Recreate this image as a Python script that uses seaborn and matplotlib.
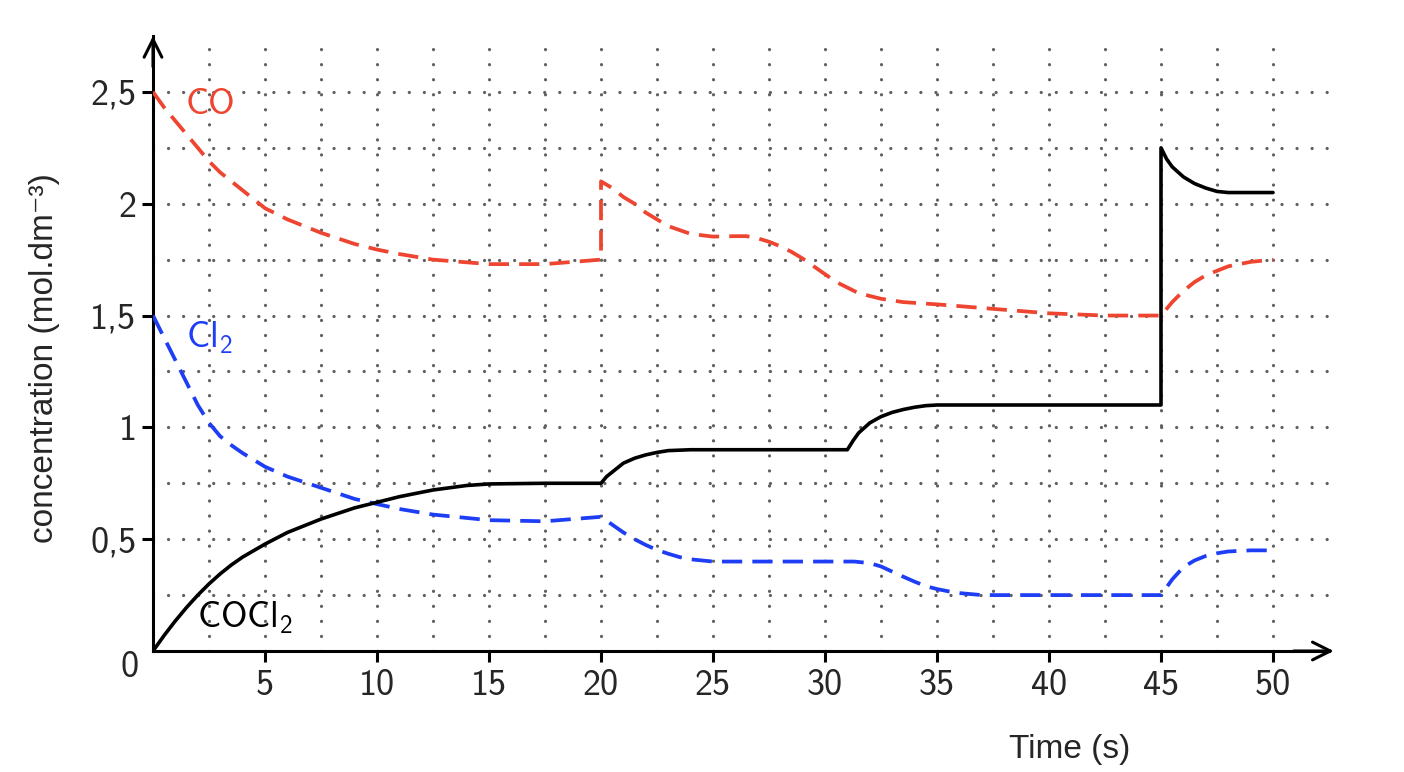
import numpy as np
import pandas as pd
import matplotlib
matplotlib.use("Agg")
import matplotlib.pyplot as plt
import seaborn as sns

# ---------------- data ----------------
co_t = [0, 0.5, 1, 1.5, 2, 2.5, 3, 3.5, 4, 5, 6, 7.5, 9, 10, 11, 12.5, 15, 17.5, 20,
        20, 20.5, 21, 21.5, 22, 22.5, 23, 24, 25, 26, 26.5, 27, 27.5, 28, 28.5, 29, 29.5, 30,
        30.5, 31, 31.5, 32.5, 33.5, 35, 37.5, 40, 42.5, 45,
        45.5, 46, 46.5, 47, 47.5, 48, 49, 50]
co_c = [2.50, 2.43, 2.37, 2.31, 2.25, 2.19, 2.14, 2.10, 2.06, 1.98, 1.93, 1.87, 1.82, 1.795, 1.775, 1.75, 1.73, 1.73, 1.75,
        2.10, 2.07, 2.03, 2.00, 1.96, 1.93, 1.90, 1.865, 1.853, 1.855, 1.855, 1.845, 1.83, 1.81, 1.785, 1.755, 1.72, 1.685,
        1.65, 1.625, 1.60, 1.575, 1.56, 1.55, 1.53, 1.51, 1.50, 1.50,
        1.56, 1.61, 1.65, 1.68, 1.70, 1.72, 1.74, 1.75]

cl2_t = [0, 0.5, 1, 1.5, 2, 2.5, 3, 3.5, 4, 5, 6, 7.5, 9, 10, 11, 12.5, 15, 17.5, 20,
         20.5, 21, 21.5, 22, 22.5, 23, 23.5, 24, 25, 27.5, 30, 31.3, 32, 32.5, 33, 33.5, 34,
         34.5, 35, 35.5, 36, 37, 40, 45,
         45.5, 46, 46.5, 47, 47.5, 48, 49, 50]
cl2_c = [1.50, 1.40, 1.30, 1.20, 1.10, 1.02, 0.96, 0.92, 0.885, 0.824, 0.78, 0.73, 0.68, 0.657, 0.635, 0.61, 0.585, 0.58, 0.60,
         0.565, 0.53, 0.50, 0.474, 0.452, 0.435, 0.42, 0.41, 0.40, 0.40, 0.40, 0.40, 0.393, 0.378, 0.355, 0.332, 0.31,
         0.29, 0.277, 0.267, 0.259, 0.25, 0.25, 0.25,
         0.32, 0.375, 0.405, 0.425, 0.437, 0.445, 0.45, 0.45]

cocl2_t = [0, 0.5, 1, 1.5, 2, 2.5, 3, 3.5, 4, 5, 6, 7.5, 9, 10, 11, 12.5, 14, 15, 17.5, 20,
           20.25, 20.5, 21, 21.5, 22, 22.5, 23, 24, 31, 31.25, 31.5, 32, 32.5, 33, 33.5, 34, 34.5, 35, 45,
           45, 45.25, 45.5, 46, 46.5, 47, 47.5, 48, 50]
cocl2_c = [0.0, 0.07, 0.135, 0.195, 0.25, 0.30, 0.345, 0.385, 0.42, 0.478, 0.53, 0.59, 0.64, 0.665, 0.69, 0.72, 0.74, 0.747, 0.75, 0.75,
           0.78, 0.80, 0.84, 0.862, 0.877, 0.888, 0.896, 0.90, 0.90, 0.94, 0.975, 1.02, 1.048, 1.067, 1.08, 1.09, 1.097, 1.10, 1.10,
           2.25, 2.20, 2.165, 2.12, 2.09, 2.07, 2.055, 2.05, 2.05]

x_ticks = [5, 10, 15, 20, 25, 30, 35, 40, 45, 50]
x_tick_labels = ["5", "10", "15", "20", "25", "30", "35", "40", "45", "50"]
y_ticks = [0.5, 1.0, 1.5, 2.0, 2.5]
y_tick_labels = ["0,5", "1", "1,5", "2", "2,5"]

series_names = ["CO", "Cl$_2$", "COCl$_2$"]

# ---------------- style ----------------
sns.set_style("white")
plt.rcParams["font.family"] = ["cmss10", "DejaVu Sans"]
plt.rcParams["mathtext.fontset"] = "custom"
plt.rcParams["mathtext.rm"] = "cmss10"
plt.rcParams["mathtext.it"] = "cmss10"
plt.rcParams["mathtext.sf"] = "cmss10"
plt.rcParams["axes.unicode_minus"] = False

RED = "#EE4530"
BLUE = "#1E3EF5"
BLACK = "#000000"
FS = 26

fig = plt.figure(figsize=(14.04, 7.72), dpi=100)
ax = fig.add_axes([153 / 1404, 1 - 651 / 772, (1329 - 153) / 1404, (651 - 36) / 772])

df_co = pd.DataFrame({"t": co_t, "c": co_c})
df_cl = pd.DataFrame({"t": cl2_t, "c": cl2_c})
df_cc = pd.DataFrame({"t": cocl2_t, "c": cocl2_c})

LW = 2.7
DASH = [5.4, 2.7]
sns.lineplot(data=df_co, x="t", y="c", estimator=None, sort=False, color=RED, ax=ax)
ln = ax.lines[-1]; ln.set_linewidth(LW); ln.set_dashes(DASH); ln.set_zorder(3)
sns.lineplot(data=df_cl, x="t", y="c", estimator=None, sort=False, color=BLUE, ax=ax)
ln = ax.lines[-1]; ln.set_linewidth(LW); ln.set_dashes(DASH); ln.set_zorder(3)
sns.lineplot(data=df_cc, x="t", y="c", estimator=None, sort=False, color=BLACK, ax=ax)
ln = ax.lines[-1]; ln.set_linewidth(2.6); ln.set_zorder(3)

ax.set_xlim(0, 52.5)
ax.set_ylim(0, 2.75)

ax.set_xticks(x_ticks)
ax.set_xticklabels(x_tick_labels)
ax.set_yticks(y_ticks)
ax.set_yticklabels(y_tick_labels)
ax.set_xticks(np.arange(2.5, 50, 5), minor=True)
ax.set_yticks(np.arange(0.25, 2.5, 0.5), minor=True)

ax.tick_params(which="major", direction="out", length=8, width=2.2, color="black",
               labelsize=FS, pad=5, left=True, bottom=True)
ax.tick_params(axis="y", which="major", pad=4)
ax.tick_params(which="minor", length=0)

ax.grid(which="both", color="#606060", linestyle=(0, (0.01, 4.6)), linewidth=2.35,
        dash_capstyle="round", zorder=0)
ax.set_axisbelow(True)

for s in ["top", "right"]:
    ax.spines[s].set_visible(False)
for s in ["left", "bottom"]:
    ax.spines[s].set_linewidth(2.2)
    ax.spines[s].set_color("black")

# arrow heads on axes
ax.annotate("", xy=(1.004, 0), xytext=(0.97, 0), xycoords="axes fraction",
            arrowprops=dict(arrowstyle="->", lw=2.2, color="black", mutation_scale=32,
                            shrinkA=0, shrinkB=0), annotation_clip=False)
ax.annotate("", xy=(0, 1.0), xytext=(0, 0.95), xycoords="axes fraction",
            arrowprops=dict(arrowstyle="->", lw=2.2, color="black", mutation_scale=32,
                            shrinkA=0, shrinkB=0), annotation_clip=False)

ax.set_xlabel("")
ax.set_ylabel("")

# origin label
ax.text(-1.03, -0.076, "0", ha="center", va="center", fontsize=FS, clip_on=False)

# series labels
ax.text(1.47, 2.40, series_names[0], color=RED, fontsize=FS, ha="left", va="baseline")
ax.text(1.47, 1.355, series_names[1], color=BLUE, fontsize=FS, ha="left", va="baseline")
ax.text(1.96, 0.103, series_names[2], color=BLACK, fontsize=FS, ha="left", va="baseline")

# axis titles
fig.text(1070 / 1404, 1 - 758 / 772, "Time (s)", ha="center", va="baseline",
         fontsize=24, family=["Liberation Sans", "DejaVu Sans"])
fig.text(45 / 1404, 1 - 358 / 772, "concentration (mol.dm\u207b\u00b3)", ha="center", va="center",
         rotation=90, fontsize=24, family=["Liberation Sans", "DejaVu Sans"])

fig.savefig("out.png", dpi=100)
